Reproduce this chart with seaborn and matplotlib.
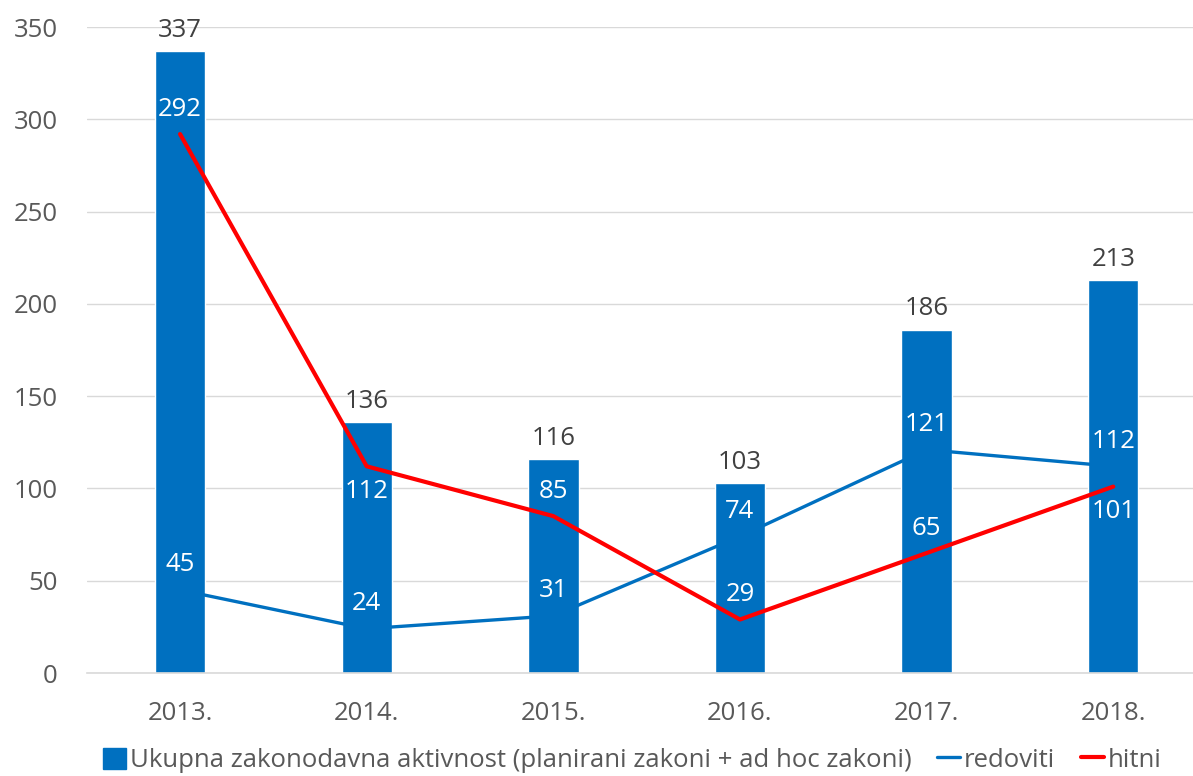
import pandas as pd
import seaborn as sns
import matplotlib.pyplot as plt
from matplotlib.patches import Patch
from matplotlib.lines import Line2D

# podaci
godine = ['2013.', '2014.', '2015.', '2016.', '2017.', '2018.']
ukupno = [337, 136, 116, 103, 186, 213]
redoviti = [45, 24, 31, 74, 121, 112]
hitni = [292, 112, 85, 29, 65, 101]

# položaj oznaka linija: 1 = iznad, -1 = ispod
redoviti_poz = [1, 1, 1, 1, 1, 1]
hitni_poz = [1, -1, 1, 1, 1, -1]

plava = '#0070C0'
crvena = '#FF0000'
siva = '#595959'

sns.set_theme(style='white')
plt.rcParams['font.family'] = ['Open Sans', 'DejaVu Sans']

df = pd.DataFrame({'godina': godine, 'ukupno': ukupno,
                   'redoviti': redoviti, 'hitni': hitni})

fig = plt.figure(figsize=(11.93, 7.76), dpi=100)
ax = fig.add_axes([0.0727, 0.1327, 0.9387, 0.8325])

sns.barplot(data=df, x='godina', y='ukupno', color=plava, width=0.27,
            saturation=1, ax=ax, zorder=2)
sns.lineplot(data=df, x='godina', y='redoviti', color=plava, linewidth=2.4,
             ax=ax, zorder=3)
sns.lineplot(data=df, x='godina', y='hitni', color=crvena, linewidth=3,
             ax=ax, zorder=4)

ax.set_ylim(0, 350)
ax.set_xlim(-0.5, 5.5)
ax.set_yticks(range(0, 351, 50))
ax.yaxis.grid(True, color='#D9D9D9', linewidth=1, zorder=0)
ax.set_axisbelow(True)
for s in ['top', 'right', 'left']:
    ax.spines[s].set_visible(False)
ax.spines['bottom'].set_color('#D9D9D9')
ax.spines['bottom'].set_linewidth(1.2)
ax.set_xlabel('')
ax.set_ylabel('')
fs = 18.5
ax.tick_params(axis='both', length=0, labelsize=fs, colors=siva)
ax.tick_params(axis='x', pad=20)
ax.tick_params(axis='y', pad=21)

# oznake stupaca
for i, v in enumerate(ukupno):
    ax.annotate(str(v), (i, v), xytext=(0, 6), textcoords='offset points',
                ha='center', va='bottom', fontsize=fs, color='#404040')

# oznake linija
for serija, pozicije in [(redoviti, redoviti_poz), (hitni, hitni_poz)]:
    for i, (v, p) in enumerate(zip(serija, pozicije)):
        ax.annotate(str(v), (i, v), xytext=(0, 18 * p), textcoords='offset points',
                    ha='center', va='center', fontsize=fs, color='white', zorder=6)

handles = [Patch(facecolor=plava, edgecolor=plava),
           Line2D([0], [0], color=plava, linewidth=2.4),
           Line2D([0], [0], color=crvena, linewidth=3)]
labels = ['Ukupna zakonodavna aktivnost (planirani zakoni + ad hoc zakoni)',
          'redoviti', 'hitni']
fig.legend(handles, labels, loc='lower center', bbox_to_anchor=(0.53, -0.026),
           ncol=3, frameon=False, fontsize=fs, handlelength=0.9,
           handleheight=0.9, handletextpad=0.15, columnspacing=1.0,
           labelcolor=siva)

fig.savefig('out.png', dpi=100)
